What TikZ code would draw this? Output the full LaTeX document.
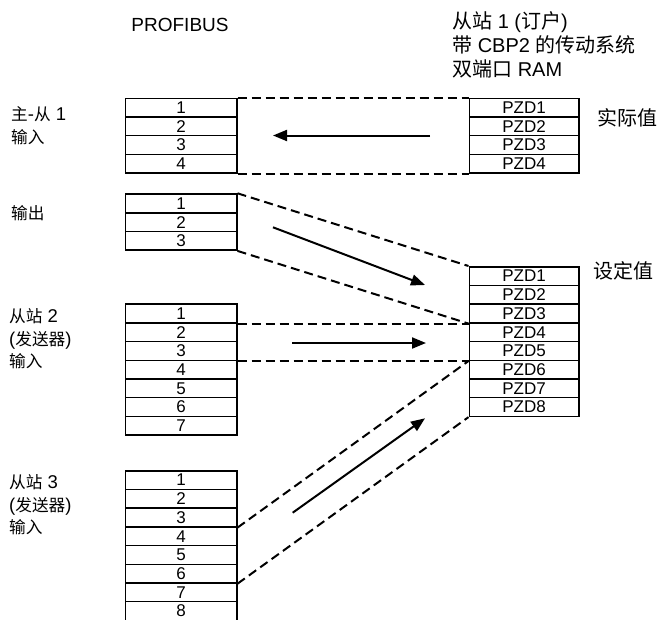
\documentclass[tikz,border=0pt]{standalone}
\usepackage{fontspec}
\setmainfont{Liberation Sans}
\newfontfamily\cjk{Noto Sans CJK SC}
\newfontfamily\cjks[Scale=0.9]{Noto Sans CJK SC}
\newcommand\zh[1]{{\cjk #1}}
\newcommand\zs[1]{{\cjks #1}}
\usetikzlibrary{arrows.meta}
\begin{document}
\begin{tikzpicture}[x=1pt,y=-1pt,
  cell/.style={draw,line width=1.5pt,rectangle,minimum width=111.5pt,minimum height=18.7pt,inner sep=0pt,anchor=north west,font=\fontsize{17}{17}\selectfont},
  pzd/.style={cell,minimum width=109.5pt},
  lbl/.style={anchor=west,align=left,inner sep=0pt,font=\fontsize{18.5}{22.5}\selectfont},
  rlbl/.style={anchor=west,inner sep=0pt,font=\fontsize{20}{20}\selectfont},
  link/.style={line width=2pt,dash pattern=on 9pt off 5pt},
  flow/.style={line width=2pt,-{Triangle[length=14pt,width=11pt]}}]
\useasboundingbox (0,0) rectangle (658,619);
\def\h{18.7}
% left boxes
\foreach \i in {1,...,4} \node[cell] (A\i) at (124.5,{97.5+(\i-1)*\h}) {\i};
\foreach \i in {1,...,3} \node[cell] (B\i) at (124.5,{193.3+(\i-1)*\h}) {\i};
\foreach \i in {1,...,7} \node[cell] (C\i) at (124.5,{266+(\i+1)*\h}) {\i};
\foreach \i in {1,...,8} \node[cell] (D\i) at (124.5,{470+(\i-1)*\h}) {\i};
% right boxes
\foreach \i in {1,...,4} \node[pzd] (P\i) at (468.5,{97.5+(\i-1)*\h}) {PZD\i};
\foreach \i in {1,...,8} \node[pzd] (S\i) at (468.5,{266+(\i-1)*\h}) {PZD\i};
% titles
\node[anchor=center,inner sep=0pt,font=\fontsize{19}{19}\selectfont] (prof) at (180,25) {PROFIBUS};
\node[anchor=north west,align=left,inner sep=0pt,font=\fontsize{20}{24.2}\selectfont] (head) at (452,11)
  {\zh{从站} 1 (\zh{订户})\\ \zh{带} CBP2 \zh{的传动系统}\\ \zh{双端口} RAM};
\node[rlbl] (act) at (597,117.7) {\zh{实际值}};
\node[rlbl] (set) at (593,271) {\zh{设定值}};
% left labels
\node[lbl] (la) at (11,125.5) {\zs{主}-\zs{从} 1\\ \zs{输入}};
\node[lbl] (lb) at (11,213.5) {\zs{输出}};
\node[lbl] (lc) at (9,339) {\zs{从站} 2\\ (\zs{发送器})\\ \zs{输入}};
\node[lbl] (ld) at (9,505) {\zs{从站} 3\\ (\zs{发送器})\\ \zs{输入}};
% dashed links
\draw[link] (A1.north east) -- (P1.north west);
\draw[link] (A4.south east) -- (P4.south west);
\draw[link] (B1.north east) -- (S1.north west);
\draw[link] (B3.south east) -- (S3.south west);
\draw[link] (C1.south east) -- (S3.south west);
\draw[link] (C3.south east) -- (S5.south west);
\draw[link] (D3.south east) -- (S5.south west);
\draw[link] (D6.south east) -- (S8.south west);
% flow arrows
\coordinate (a1s) at (430,135.5); \coordinate (a1e) at (273,135.5);
\coordinate (a2s) at (273,227.3); \coordinate (a2e) at (425,285);
\coordinate (a3s) at (292,343); \coordinate (a3e) at (426,343);
\coordinate (a4s) at (292.7,512.7); \coordinate (a4e) at (425,418.3);
\draw[flow] (a1s) -- (a1e);
\draw[flow] (a2s) -- (a2e);
\draw[flow] (a3s) -- (a3e);
\draw[flow] (a4s) -- (a4e);
\end{tikzpicture}
\end{document}
